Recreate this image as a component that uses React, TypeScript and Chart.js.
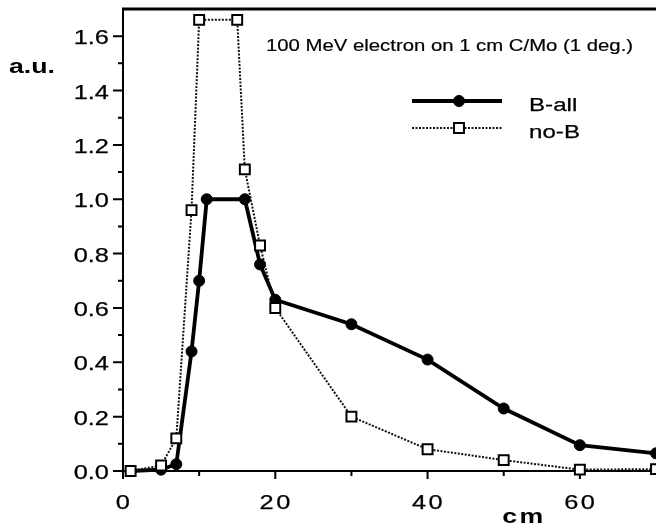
import React, { useEffect, useRef } from 'react';
import { Chart, registerables } from 'chart.js';

Chart.register(...registerables);

// Labels
const TITLE = '100 MeV electron on 1 cm C/Mo (1 deg.)';
const Y_UNIT = 'a.u.';
const X_UNIT = 'cm';
const SERIES_NAMES = ['B-all', 'no-B'];

// Depth (cm) and relative yield for each configuration
const bAllDepth = [1, 5, 7, 9, 10, 11, 16, 18, 20, 30, 40, 50, 60, 70];
const bAllValue = [0, 0.005, 0.025, 0.44, 0.7, 1.0, 1.0, 0.76, 0.63, 0.54, 0.41, 0.23, 0.095, 0.065];
const noBDepth = [1, 5, 7, 9, 10, 15, 16, 18, 20, 30, 40, 50, 60, 70];
const noBValue = [0, 0.02, 0.12, 0.96, 1.66, 1.66, 1.11, 0.83, 0.6, 0.2, 0.08, 0.04, 0.005, 0.007];

// Axis ticks
const xMajorTicks = [0, 20, 40, 60];
const xMinorTicks = [10, 30, 50];
const yMajorTicks = [0, 0.2, 0.4, 0.6, 0.8, 1.0, 1.2, 1.4, 1.6];
const yMinorTicks = [0.1, 0.3, 0.5, 0.7, 0.9, 1.1, 1.3, 1.5];

const FONT = '"Liberation Sans", Arial, Helvetica, sans-serif';
const STRETCH = 1.27;

function drawText(
  ctx: CanvasRenderingContext2D,
  text: string,
  x: number,
  y: number,
  font: string,
  align: CanvasTextAlign,
  spacing = 0,
  weight = 0.25
) {
  ctx.save();
  ctx.font = font;
  ctx.fillStyle = '#000';
  ctx.strokeStyle = '#000';
  ctx.lineWidth = weight;
  ctx.lineJoin = 'round';
  ctx.textBaseline = 'alphabetic';
  ctx.textAlign = align;
  (ctx as any).letterSpacing = spacing + 'px';
  ctx.translate(x, y);
  ctx.scale(STRETCH, 1);
  ctx.fillText(text, 0, 0);
  if (weight > 0) ctx.strokeText(text, 0, 0);
  ctx.restore();
}

const framePlugin = {
  id: 'frame',
  beforeDatasetsDraw(chart: any) {
    const { ctx, chartArea } = chart;
    const xs = chart.scales.x;
    const ys = chart.scales.y;
    const { left, right, top, bottom } = chartArea;
    ctx.save();
    ctx.strokeStyle = '#000';
    ctx.lineCap = 'butt';

    // top border
    ctx.lineWidth = 3;
    ctx.beginPath();
    ctx.moveTo(left - 1, top);
    ctx.lineTo(right + 40, top);
    ctx.stroke();

    // axes
    ctx.lineWidth = 2;
    ctx.beginPath();
    ctx.moveTo(left, top);
    ctx.lineTo(left, bottom + 8);
    ctx.moveTo(left, bottom);
    ctx.lineTo(right + 40, bottom);
    ctx.stroke();

    // y ticks
    ctx.lineWidth = 2;
    ctx.beginPath();
    yMajorTicks.forEach((v) => {
      const py = ys.getPixelForValue(v);
      ctx.moveTo(left - 10, py);
      ctx.lineTo(left, py);
    });
    yMinorTicks.forEach((v) => {
      const py = ys.getPixelForValue(v);
      ctx.moveTo(left - 5, py);
      ctx.lineTo(left, py);
    });
    // x ticks
    xMajorTicks.forEach((v) => {
      const px = xs.getPixelForValue(v);
      ctx.moveTo(px, bottom);
      ctx.lineTo(px, bottom + 8);
    });
    xMinorTicks.forEach((v) => {
      const px = xs.getPixelForValue(v);
      ctx.moveTo(px, bottom);
      ctx.lineTo(px, bottom + 5);
    });
    ctx.stroke();
    ctx.restore();
  },
  afterDraw(chart: any) {
    const { ctx, chartArea } = chart;
    const xs = chart.scales.x;
    const ys = chart.scales.y;
    const tickFont = `20px ${FONT}`;

    yMajorTicks.forEach((v) => {
      drawText(ctx, v.toFixed(1), chartArea.left - 14, ys.getPixelForValue(v) + 8, tickFont, 'right');
    });
    xMajorTicks.forEach((v) => {
      drawText(ctx, String(v), xs.getPixelForValue(v) + 1, chartArea.bottom + 38, tickFont, 'center', 2);
    });

    drawText(ctx, Y_UNIT, 9, 73, `bold 21px ${FONT}`, 'left', 0, 0);
    drawText(ctx, X_UNIT, 524, 523, `bold 21px ${FONT}`, 'center', 2, 0);
    drawText(ctx, TITLE, 266, 51, `16px ${FONT}`, 'left', 0, 0.2);

    // legend
    const rows = [
      { y: 101, ds: chart.data.datasets[0] },
      { y: 128, ds: chart.data.datasets[1] },
    ];
    rows.forEach(({ y, ds }, i) => {
      ctx.save();
      ctx.strokeStyle = ds.borderColor;
      ctx.lineWidth = ds.borderWidth;
      ctx.setLineDash(ds.borderDash || []);
      ctx.beginPath();
      ctx.moveTo(412, y);
      ctx.lineTo(502, y);
      ctx.stroke();
      ctx.setLineDash([]);
      const r = ds.pointRadius;
      ctx.fillStyle = ds.pointBackgroundColor;
      ctx.strokeStyle = ds.pointBorderColor;
      ctx.lineWidth = ds.pointBorderWidth;
      ctx.beginPath();
      if (ds.pointStyle === 'rect') {
        const s = r * Math.SQRT1_2;
        ctx.rect(459 - s, y - s, 2 * s, 2 * s);
      } else {
        ctx.arc(459, y, r, 0, Math.PI * 2);
      }
      ctx.fill();
      ctx.stroke();
      ctx.restore();
      drawText(ctx, SERIES_NAMES[i], 529, y + 10, `19px ${FONT}`, 'left');
    });
  },
};

export default function App() {
  const canvasRef = useRef<HTMLCanvasElement | null>(null);

  useEffect(() => {
    const canvas = canvasRef.current;
    if (!canvas) return;
    const chart = new Chart(canvas, {
      type: 'line',
      data: {
        datasets: [
          {
            label: SERIES_NAMES[0],
            data: bAllDepth.map((x, i) => ({ x, y: bAllValue[i] })),
            borderColor: '#000',
            borderWidth: 3.8,
            pointStyle: 'circle',
            pointRadius: 5.5,
            pointBackgroundColor: '#000',
            pointBorderColor: '#000',
            pointBorderWidth: 1,
            tension: 0,
            clip: false,
            order: 1,
          } as any,
          {
            label: SERIES_NAMES[1],
            data: noBDepth.map((x, i) => ({ x, y: noBValue[i] })),
            borderColor: '#111',
            borderWidth: 2,
            borderDash: [2, 1.5],
            pointStyle: 'rect',
            pointRadius: 7,
            pointBackgroundColor: '#fff',
            pointBorderColor: '#000',
            pointBorderWidth: 2,
            tension: 0,
            clip: false,
            order: 0,
          } as any,
        ],
      },
      options: {
        animation: false,
        responsive: false,
        devicePixelRatio: 1,
        layout: { padding: { top: 7, right: 44, left: 0, bottom: 0 } },
        plugins: {
          legend: { display: false },
          tooltip: { enabled: false },
          title: { display: false },
        },
        scales: {
          x: {
            type: 'linear',
            min: 0,
            max: 70,
            grid: { display: false },
            border: { display: false },
            ticks: { display: false },
            afterFit: (s: any) => {
              s.height = 57;
            },
          },
          y: {
            type: 'linear',
            min: 0,
            max: 1.7,
            grid: { display: false },
            border: { display: false },
            ticks: { display: false },
            afterFit: (s: any) => {
              s.width = 123;
            },
          },
        },
      },
      plugins: [framePlugin],
    });
    return () => chart.destroy();
  }, []);

  return (
    <div
      style={{
        position: 'fixed',
        left: 0,
        top: 0,
        width: 656,
        height: 528,
        overflow: 'hidden',
        background: '#fff',
      }}
    >
      <canvas ref={canvasRef} width={700} height={528} style={{ display: 'block', width: 700, height: 528 }} />
    </div>
  );
}
